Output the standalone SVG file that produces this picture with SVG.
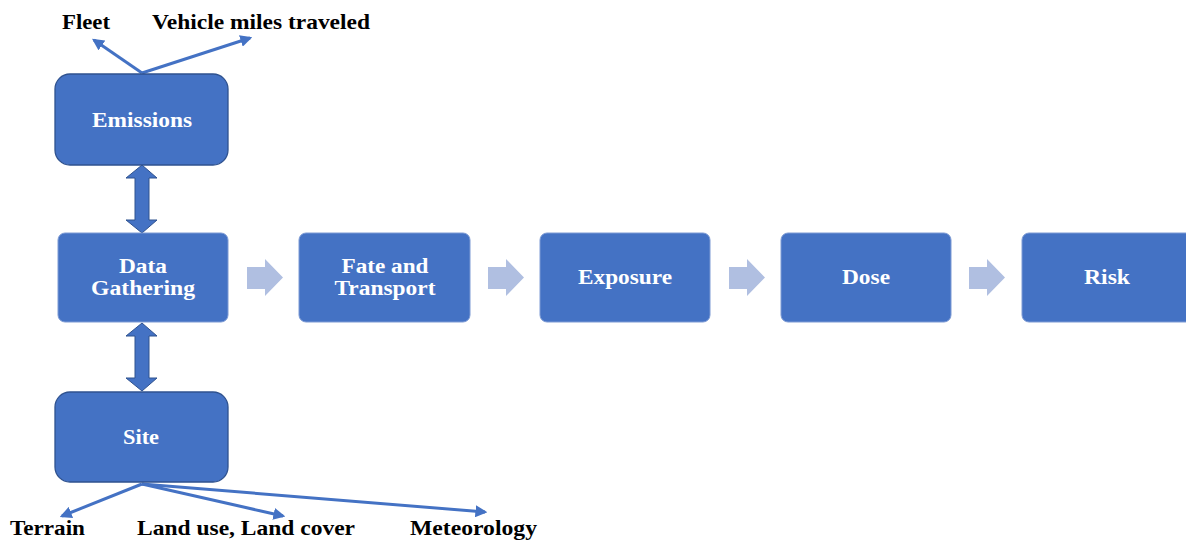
<svg xmlns="http://www.w3.org/2000/svg" width="1186" height="541" viewBox="0 0 1186 541">
<defs>
<style>
.box{fill:#4472C4;stroke:#7C9AD4;stroke-width:1}
.sbox{fill:#4472C4;stroke:#2F528F;stroke-width:1.3}
.bt{font-family:"Liberation Serif","Times New Roman",serif;font-weight:bold;font-size:20px;fill:#FFFFFF;text-anchor:middle}
.lt{font-family:"Liberation Serif","Times New Roman",serif;font-weight:bold;font-size:21px;fill:#000000}
.chev{fill:#B0BFE1}
.dbl{fill:#4472C4;stroke:#2F528F;stroke-width:1}
.ln{stroke:#4472C4;stroke-width:3;fill:none}
</style>
<marker id="ah" viewBox="0 0 10 10" refX="8" refY="5" markerWidth="4" markerHeight="4" orient="auto" markerUnits="strokeWidth">
<path d="M0,0 L10,5 L0,10 z" fill="#4472C4"/>
</marker>
</defs>
<rect width="1186" height="541" fill="#FFFFFF"/>
<g id="connectors">
<line class="ln" x1="142" y1="73" x2="94" y2="40" marker-end="url(#ah)"/>
<line class="ln" x1="142" y1="73" x2="250" y2="38" marker-end="url(#ah)"/>
<line class="ln" x1="142" y1="484" x2="62" y2="516" marker-end="url(#ah)"/>
<line class="ln" x1="142" y1="484" x2="283" y2="516" marker-end="url(#ah)"/>
<line class="ln" x1="142" y1="484" x2="485" y2="512" marker-end="url(#ah)"/>
<path class="dbl" d="M142,165 L157,178 L149,178 L149,220 L157,220 L142,233 L126,220 L135,220 L135,178 L126,178 Z"/>
<path class="dbl" d="M142,323 L157,336 L149,336 L149,378 L157,378 L142,391 L126,378 L135,378 L135,336 L126,336 Z"/>
<path class="chev" d="M247,267 L265,267 L265,259 L283,277.5 L265,296 L265,289 L247,289 Z"/>
<path class="chev" d="M488,267 L506,267 L506,259 L524,277.5 L506,296 L506,289 L488,289 Z"/>
<path class="chev" d="M729,267 L747,267 L747,259 L765,277.5 L747,296 L747,289 L729,289 Z"/>
<path class="chev" d="M969,267 L987,267 L987,259 L1005,277.5 L987,296 L987,289 L969,289 Z"/>
</g>
<g id="emissions">
<rect class="sbox" x="55" y="74" width="173" height="91" rx="15"/>
<text class="bt" x="142" y="127" textLength="100" lengthAdjust="spacingAndGlyphs">Emissions</text>
</g>
<g id="data-gathering">
<rect class="box" x="58" y="233" width="170" height="89" rx="7"/>
<text class="bt" x="143" y="273" textLength="48" lengthAdjust="spacingAndGlyphs">Data</text>
<text class="bt" x="143" y="295" textLength="104" lengthAdjust="spacingAndGlyphs">Gathering</text>
</g>
<g id="site">
<rect class="sbox" x="55" y="392" width="173" height="90" rx="15"/>
<text class="bt" x="141" y="444" textLength="36" lengthAdjust="spacingAndGlyphs">Site</text>
</g>
<g id="fate-transport">
<rect class="box" x="299" y="233" width="171" height="89" rx="7"/>
<text class="bt" x="385" y="273" textLength="87" lengthAdjust="spacingAndGlyphs">Fate and</text>
<text class="bt" x="385" y="295" textLength="101" lengthAdjust="spacingAndGlyphs">Transport</text>
</g>
<g id="exposure">
<rect class="box" x="540" y="233" width="170" height="89" rx="7"/>
<text class="bt" x="625" y="284" textLength="94" lengthAdjust="spacingAndGlyphs">Exposure</text>
</g>
<g id="dose">
<rect class="box" x="781" y="233" width="170" height="89" rx="7"/>
<text class="bt" x="866" y="284" textLength="48" lengthAdjust="spacingAndGlyphs">Dose</text>
</g>
<g id="risk">
<rect class="box" x="1022" y="233" width="180" height="89" rx="7"/>
<text class="bt" x="1107" y="284" textLength="46" lengthAdjust="spacingAndGlyphs">Risk</text>
</g>
<g id="labels">
<text class="lt" x="62" y="29" textLength="48" lengthAdjust="spacingAndGlyphs">Fleet</text>
<text class="lt" x="152" y="29" textLength="218" lengthAdjust="spacingAndGlyphs">Vehicle miles traveled</text>
<text class="lt" x="10" y="535" textLength="75" lengthAdjust="spacingAndGlyphs">Terrain</text>
<text class="lt" x="137" y="535" textLength="218" lengthAdjust="spacingAndGlyphs">Land use, Land cover</text>
<text class="lt" x="410" y="535" textLength="127" lengthAdjust="spacingAndGlyphs">Meteorology</text>
</g>
</svg>
